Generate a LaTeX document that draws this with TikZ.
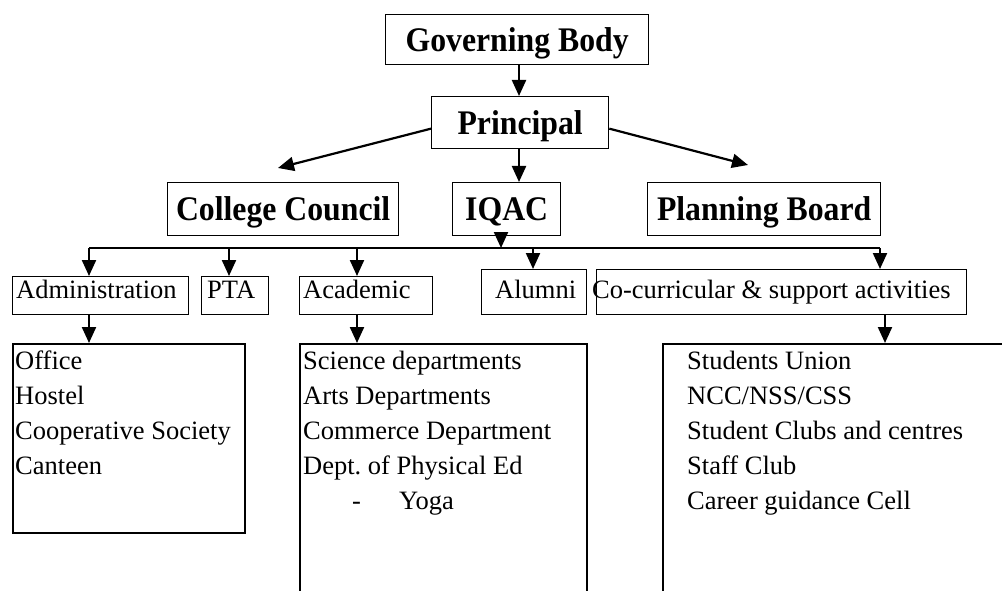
\documentclass[tikz,border=0pt]{standalone}
\usepackage{fontspec}
\setmainfont{Liberation Serif}
\newfontfamily\titlefont{Liberation Serif}[FakeStretch=0.92]
\usetikzlibrary{arrows.meta}
\frenchspacing
\begin{document}
\begin{tikzpicture}[x=1pt,y=-1pt,
  title/.style={draw, line width=1.3pt, inner sep=0pt, anchor=north west,
    font=\titlefont\bfseries\fontsize{34.5}{40}\selectfont, text height=23pt, text depth=0pt},
  sbox/.style={draw, line width=1.3pt, inner sep=0pt, anchor=north west},
  bbox/.style={draw, line width=2pt, inner sep=0pt, anchor=north west},
  txt/.style={inner sep=0pt, anchor=base west, font=\fontsize{26.5}{32}\selectfont},
  arr/.style={line width=2.2pt, -{Triangle[length=16pt,width=14pt]}},
  busline/.style={line width=2.2pt}]
\useasboundingbox (0,0) rectangle (1002,591);
\clip (0,0) rectangle (1002,591);
\fill[white] (0,0) rectangle (1002,591);

% top level
\node[title, minimum width=263pt, minimum height=50pt] (gov) at (385,14) {Governing Body};
\node[title, minimum width=177pt, minimum height=52pt] (prin) at (431,96) {Principal};
\node[title, minimum width=231pt, minimum height=53pt] (cc) at (167,182) {College Council};
\node[title, minimum width=108pt, minimum height=53pt] (iqac) at (452,182) {IQAC};
\node[title, minimum width=233pt, minimum height=53pt] (pb) at (647,182) {Planning Board};

\coordinate (xa) at (519,0);
\coordinate (ccTip) at (278,168);
\coordinate (pbTip) at (748,165);
\draw[arr] (gov.south -| xa) -- (prin.north -| xa);
\draw[arr] (prin.south -| xa) -- (iqac.north -| xa);
\draw[arr] ([yshift=-6pt]prin.west) -- (ccTip);
\draw[arr] ([yshift=-6pt]prin.east) -- (pbTip);

% bus
\coordinate (bI) at (501,248);
\coordinate (b1) at (89,248);
\coordinate (b2) at (229,248);
\coordinate (b3) at (357,248);
\coordinate (b4) at (533,248);
\coordinate (b5) at (880,248);
\draw[busline] (b1) -- (b5);
\draw[arr] (iqac.south -| bI) -- (bI);

% second row
\node[sbox, minimum width=176pt, minimum height=38pt] (adm) at (12,276) {};
\node[sbox, minimum width=67pt, minimum height=38pt] (pta) at (201,276) {};
\node[sbox, minimum width=133pt, minimum height=38pt] (acad) at (299,276) {};
\node[sbox, minimum width=105pt, minimum height=45pt] (alum) at (481,269) {};
\node[sbox, minimum width=370pt, minimum height=45pt] (cocur) at (596,269) {};
\node[txt] (tadm) at (16,298) {Administration};
\node[txt] (tpta) at (207,298) {PTA};
\node[txt] (tacad) at (303,298) {Academic};
\node[txt] (talum) at (495,298) {Alumni};
\node[txt] (tcocur) at (592,298) {Co-curricular \& support activities};

\draw[arr] (b1) -- (adm.north -| b1);
\draw[arr] (b2) -- (pta.north -| b2);
\draw[arr] (b3) -- (acad.north -| b3);
\draw[arr] (b4) -- (alum.north -| b4);
\draw[arr] (b5) -- (cocur.north -| b5);

% big boxes
\node[bbox, minimum width=232pt, minimum height=189pt] (admbox) at (12,343) {};
\node[bbox, minimum width=287pt, minimum height=300pt] (acadbox) at (299,343) {};
\node[bbox, minimum width=400pt, minimum height=300pt] (cocbox) at (662,343) {};
\coordinate (d1) at (89,0);
\coordinate (d2) at (357,0);
\coordinate (d3) at (885,0);
\draw[arr] (adm.south -| d1) -- (admbox.north -| d1);
\draw[arr] (acad.south -| d2) -- (acadbox.north -| d2);
\draw[arr] (cocur.south -| d3) -- (cocbox.north -| d3);

% texts in big boxes
\node[txt] (a1) at (15,369) {Office};
\node[txt] (a2) at (15,404) {Hostel};
\node[txt] (a3) at (15,439) {Cooperative Society};
\node[txt] (a4) at (15,474) {Canteen};

\node[txt] (c1) at (303,369) {Science departments};
\node[txt] (c2) at (303,404) {Arts Departments};
\node[txt] (c3) at (303,439) {Commerce Department};
\node[txt] (c4) at (303,474) {Dept. of Physical Ed};
\node[txt] (c5) at (352,509) {\makebox[47pt][l]{-}Yoga};

\node[txt] (s1) at (687,369) {Students Union};
\node[txt] (s2) at (687,404) {NCC/NSS/CSS};
\node[txt] (s3) at (687,439) {Student Clubs and centres};
\node[txt] (s4) at (687,474) {Staff Club};
\node[txt] (s5) at (687,509) {Career guidance Cell};
\end{tikzpicture}
\end{document}
